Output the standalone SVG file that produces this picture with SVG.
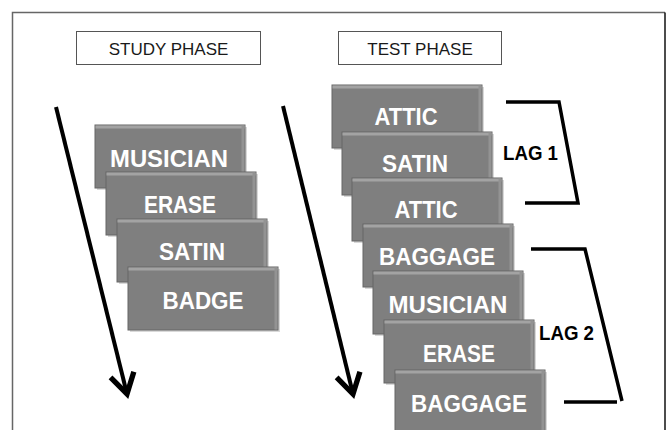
<svg xmlns="http://www.w3.org/2000/svg" width="667" height="430" viewBox="0 0 667 430">
<style>
.hdr{fill:#fff;stroke:#555;stroke-width:1}
.htxt{font-family:"Liberation Sans",Arial,sans-serif;font-size:17px;fill:#1a1a1a;text-anchor:middle}
.card{fill:#7f7f7f;stroke:#666;stroke-width:1}
.hl{fill:#a3a3a3}
.rs{fill:#939393}
.ctxt{font-family:"Liberation Sans",Arial,sans-serif;font-size:24px;font-weight:bold;fill:#fff;text-anchor:middle}
.ln{fill:none;stroke:#000;stroke-width:4}
.br{fill:none;stroke:#000;stroke-width:3.5;stroke-linejoin:miter}
.lag{font-family:"Liberation Sans",Arial,sans-serif;font-size:20px;font-weight:bold;fill:#000;text-anchor:middle}
</style>
<defs>
<marker id="ah" markerUnits="userSpaceOnUse" markerWidth="40" markerHeight="40" viewBox="-20 -15 25 30" refX="0" refY="0" orient="auto" overflow="visible">
<path d="M-15,-9 L0,0 L-15,9" fill="none" stroke="#000" stroke-width="4"/>
</marker>
<symbol id="cardshape" overflow="visible">
<rect x="2" y="2" width="150" height="63" fill="#000" opacity="0.15"/>
<rect class="card" x="0" y="0" width="150" height="63"/>
<rect class="hl" x="0.5" y="0.5" width="149" height="3"/>
<rect class="rs" x="146.5" y="0.5" width="3" height="62"/>
</symbol>
</defs>
<rect width="667" height="430" fill="#fff"/>
<path d="M12.5,432 V12.5 H665" fill="none" stroke="#666" stroke-width="1.5"/>
<path d="M665,12.5 V432" fill="none" stroke="#111" stroke-width="1.5"/>
<g id="study-phase"><rect class="hdr" x="76.5" y="31.5" width="184" height="33"/><text class="htxt" x="168.5" y="55">STUDY PHASE</text></g>
<g id="test-phase"><rect class="hdr" x="338.5" y="31.5" width="163" height="33"/><text class="htxt" x="420" y="55">TEST PHASE</text></g>
<g id="connectors">
<line class="ln" x1="56" y1="107" x2="127" y2="394" marker-end="url(#ah)"/>
<line class="ln" x1="283" y1="106" x2="353" y2="394" marker-end="url(#ah)"/>
</g>
<g id="study-musician"><use href="#cardshape" x="95" y="125"/><text class="ctxt" x="169" y="167" textLength="118" lengthAdjust="spacingAndGlyphs">MUSICIAN</text></g>
<g id="study-erase"><use href="#cardshape" x="106" y="172"/><text class="ctxt" x="180" y="213" textLength="72" lengthAdjust="spacingAndGlyphs">ERASE</text></g>
<g id="study-satin"><use href="#cardshape" x="117" y="219"/><text class="ctxt" x="192" y="260" textLength="66" lengthAdjust="spacingAndGlyphs">SATIN</text></g>
<g id="study-badge"><use href="#cardshape" x="128" y="267"/><text class="ctxt" x="203" y="309" textLength="81" lengthAdjust="spacingAndGlyphs">BADGE</text></g>
<g id="test-attic1"><use href="#cardshape" x="332" y="85"/><text class="ctxt" x="406" y="125" textLength="63" lengthAdjust="spacingAndGlyphs">ATTIC</text></g>
<g id="test-satin"><use href="#cardshape" x="342" y="132"/><text class="ctxt" x="415" y="172" textLength="66" lengthAdjust="spacingAndGlyphs">SATIN</text></g>
<g id="test-attic2"><use href="#cardshape" x="352" y="178"/><text class="ctxt" x="426" y="218" textLength="63" lengthAdjust="spacingAndGlyphs">ATTIC</text></g>
<g id="test-baggage1"><use href="#cardshape" x="363" y="224"/><text class="ctxt" x="437" y="265" textLength="116" lengthAdjust="spacingAndGlyphs">BAGGAGE</text></g>
<g id="test-musician"><use href="#cardshape" x="373" y="271"/><text class="ctxt" x="448" y="313" textLength="119" lengthAdjust="spacingAndGlyphs">MUSICIAN</text></g>
<g id="test-erase"><use href="#cardshape" x="384" y="320"/><text class="ctxt" x="459" y="362" textLength="72" lengthAdjust="spacingAndGlyphs">ERASE</text></g>
<g id="test-baggage2"><use href="#cardshape" x="395" y="370"/><text class="ctxt" x="469" y="412" textLength="116" lengthAdjust="spacingAndGlyphs">BAGGAGE</text></g>
<g id="lag1">
<path class="br" d="M506,102 H559 L578,203 H525"/>
<text class="lag" x="530.5" y="160" textLength="55" lengthAdjust="spacingAndGlyphs">LAG 1</text>
</g>
<g id="lag2">
<path class="br" d="M531,249 H585 L622,401"/>
<path class="br" d="M564,402 H617"/>
<text class="lag" x="566.5" y="340" textLength="55" lengthAdjust="spacingAndGlyphs">LAG 2</text>
</g>
</svg>
